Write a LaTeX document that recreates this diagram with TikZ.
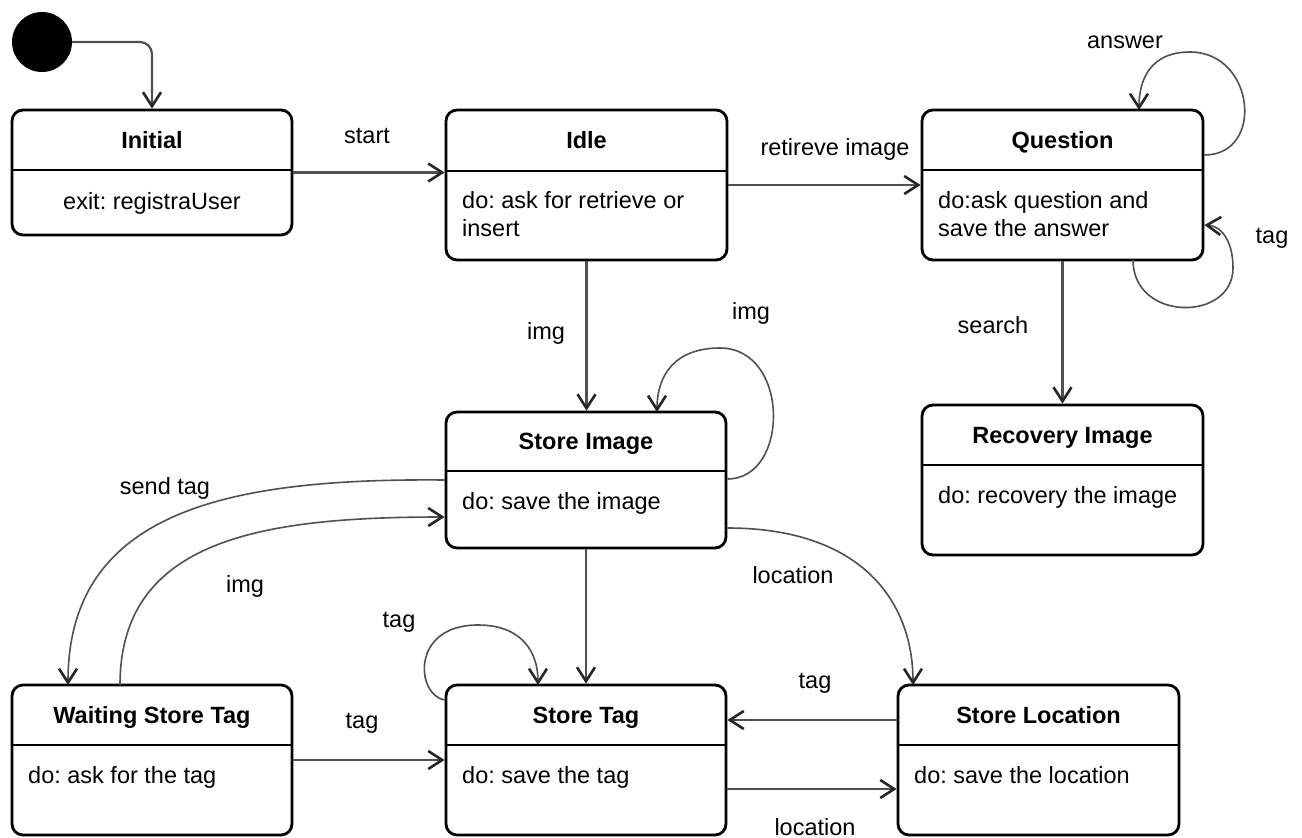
\documentclass[tikz,border=0pt]{standalone}
\usepackage{fontspec}
\setmainfont{Liberation Sans}
\usetikzlibrary{arrows.meta}
\definecolor{conncol}{HTML}{505050}
\definecolor{tipcol}{HTML}{262626}
\tikzset{
  box/.style={draw=black, line width=2.8pt, rounded corners=11pt, inner sep=0pt},
  divl/.style={draw=black, line width=2.8pt},
  ttl/.style={font=\fontsize{23.5}{28}\selectfont\bfseries, inner sep=0pt, anchor=base},
  bdy/.style={font=\fontsize{23.5}{28}\selectfont, inner sep=0pt},
  lbl/.style={font=\fontsize{23.5}{28}\selectfont, inner sep=0pt, anchor=base},
  conn/.style={draw=conncol, line width=2.2pt, -{Straight Barb[length=14pt,width=18pt,line width=2.6pt,color=tipcol]}},
  curv/.style={conn, line width=1.6pt},
}
\begin{document}
\frenchspacing
\begin{tikzpicture}[x=1pt,y=-1pt]
\useasboundingbox (0,0) rectangle (1302,838);

% initial pseudo-state
\node[circle, fill=black, minimum size=60pt, inner sep=0pt] (c0) at (42,42) {};

% states
\node[box, minimum width=280pt, minimum height=125pt] (init) at (152,172.5) {};
\node[box, minimum width=281pt, minimum height=150pt] (idle) at (586.5,185) {};
\node[box, minimum width=281pt, minimum height=150pt] (quest) at (1062.5,185) {};
\node[box, minimum width=281pt, minimum height=150pt] (recov) at (1062.5,480) {};
\node[box, minimum width=280pt, minimum height=136pt] (simg) at (586,480) {};
\node[box, minimum width=280pt, minimum height=150pt] (stag) at (586,760) {};
\node[box, minimum width=280pt, minimum height=150pt] (wait) at (152,760) {};
\node[box, minimum width=281pt, minimum height=150pt] (sloc) at (1038.5,760) {};

% dividers
\draw[divl] (init.west |- 0,170) -- (init.east |- 0,170);
\draw[divl] (idle.west |- 0,171) -- (idle.east |- 0,171);
\draw[divl] (quest.west |- 0,170) -- (quest.east |- 0,170);
\draw[divl] (recov.west |- 0,465) -- (recov.east |- 0,465);
\draw[divl] (simg.west |- 0,471) -- (simg.east |- 0,471);
\draw[divl] (stag.west |- 0,745) -- (stag.east |- 0,745);
\draw[divl] (wait.west |- 0,745) -- (wait.east |- 0,745);
\draw[divl] (sloc.west |- 0,745) -- (sloc.east |- 0,745);

% titles
\node[ttl] (initT) at (152,148) {Initial};
\node[ttl] (idleT) at (586.5,148) {Idle};
\node[ttl] (questT) at (1062.5,148) {Question};
\node[ttl] (recovT) at (1062.5,443) {Recovery Image};
\node[ttl] (simgT) at (586,449) {Store Image};
\node[ttl] (stagT) at (586,723) {Store Tag};
\node[ttl] (waitT) at (152,723) {Waiting Store Tag};
\node[ttl] (slocT) at (1038.5,723) {Store Location};

% bodies
\node[bdy, anchor=base] (initB) at (152,209) {exit: registraUser};
\node[bdy, anchor=base west] (idleB1) at (462,208) {do: ask for retrieve or};
\node[bdy, anchor=base west] (idleB2) at (462,236) {insert};
\node[bdy, anchor=base west] (questB1) at (938,208) {do:ask question and};
\node[bdy, anchor=base west] (questB2) at (938,236) {save the answer};
\node[bdy, anchor=base west] (recovB) at (938,503) {do: recovery the image};
\node[bdy, anchor=base west] (simgB) at (462,509) {do: save the image};
\node[bdy, anchor=base west] (stagB) at (462,783) {do: save the tag};
\node[bdy, anchor=base west] (waitB) at (28,783) {do: ask for the tag};
\node[bdy, anchor=base west] (slocB) at (914,783) {do: save the location};

% connectors
\draw[conn, rounded corners=12pt] (c0.east) -| (init.north);
\draw[conn] (init.east) -- (init.east -| idle.west);
\draw[conn] (idle.east) -- (quest.west);
\draw[curv] (quest.east |- 0,155) .. controls (1265,155) and (1255,52) .. (1190,52)
  .. controls (1150,52) and (1139,80) .. (1139,110);
\draw[curv] (1133,260) .. controls (1133,322) and (1233,322) .. (1233,268)
  .. controls (1233,242) and (1222,226) .. (quest.east |- 0,225);
\draw[conn] (quest.south) -- (recov.north);
\draw[conn] (idle.south) -- (idle.south |- simg.north);
\draw[curv] (simg.east |- 0,479) .. controls (790,479) and (790,348) .. (720,348)
  .. controls (675,348) and (657,375) .. (657,412);
\draw[conn] (simg.south) -- (stag.north);
\draw[curv] (stag.west |- 0,700) .. controls (416,695) and (410,625) .. (478,625)
  .. controls (520,625) and (538,650) .. (538,685);
\draw[conn] (wait.east) -- (stag.west);
\draw[curv] (simg.west |- 0,480) .. controls (230,478) and (68,510) .. (68,685);
\draw[curv] (120,685) .. controls (120,540) and (260,517) .. (simg.west |- 0,517);
\draw[curv] (simg.east |- 0,528) .. controls (860,528) and (913,600) .. (913,685);
\draw[conn] (sloc.west |- 0,720) -- (stag.east |- 0,720);
\draw[conn] (stag.east |- 0,789) -- (sloc.west |- 0,789);

% labels
\node[lbl] (lStart) at (367,143) {start};
\node[lbl] (lRetr) at (835,155) {retireve image};
\node[lbl] (lAns) at (1125,48) {answer};
\node[lbl] (lTagQ) at (1272,243) {tag};
\node[lbl] (lSearch) at (993,333) {search};
\node[lbl] (lImg1) at (546,339) {img};
\node[lbl] (lImg2) at (751,319) {img};
\node[lbl] (lSend) at (165,494) {send tag};
\node[lbl] (lImg3) at (245,592) {img};
\node[lbl] (lTagL) at (399,627) {tag};
\node[lbl] (lTagW) at (362,728) {tag};
\node[lbl] (lLoc1) at (793,583) {location};
\node[lbl] (lTagS) at (815,688) {tag};
\node[lbl] (lLoc2) at (815,835) {location};
\end{tikzpicture}
\end{document}
